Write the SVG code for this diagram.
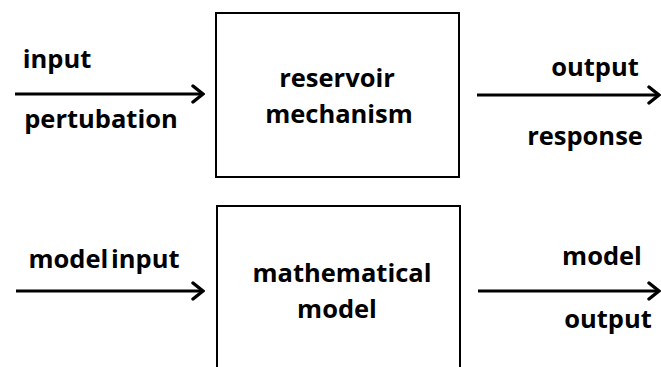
<svg xmlns="http://www.w3.org/2000/svg" width="661" height="367" viewBox="0 0 661 367">
  <defs>
    <marker id="head" markerUnits="userSpaceOnUse" markerWidth="16" markerHeight="22" viewBox="-14 -11 16 22" refX="0" refY="0" orient="auto">
      <path d="M-10,-8 L0,0 L-10,8" fill="none" stroke="#000" stroke-width="3.4" stroke-linecap="round" stroke-linejoin="miter"/>
    </marker>
    <style>
      .box { fill: #fff; stroke: #000; stroke-width: 2; }
      .lbl { font-family: "Open Sans", "Liberation Sans", sans-serif; font-weight: bold; font-size: 25.5px; fill: #000; }
      .arrow { stroke: #000; stroke-width: 3; fill: none; marker-end: url(#head); }
    </style>
  </defs>
  <rect width="661" height="367" fill="#fff"/>

  <g id="reservoir">
    <rect class="box" x="216" y="13" width="243" height="164"/>
    <text class="lbl" x="337" y="87" text-anchor="middle">reservoir</text>
    <text class="lbl" x="339" y="123" text-anchor="middle">mechanism</text>
  </g>

  <g id="model">
    <rect class="box" x="217" y="206" width="243" height="175"/>
    <text class="lbl" x="342" y="282" text-anchor="middle">mathematical</text>
    <text class="lbl" x="337" y="318" text-anchor="middle">model</text>
  </g>

  <g id="connectors">
    <line class="arrow" x1="15" y1="94" x2="203" y2="94"/>
    <line class="arrow" x1="477" y1="95" x2="659" y2="95"/>
    <line class="arrow" x1="16" y1="291" x2="203" y2="291"/>
    <line class="arrow" x1="478" y1="291" x2="659" y2="291"/>
  </g>

  <g id="labels">
    <text class="lbl" x="57" y="68" text-anchor="middle">input</text>
    <text class="lbl" x="101" y="128" text-anchor="middle">pertubation</text>
    <text class="lbl" x="595" y="76" text-anchor="middle">output</text>
    <text class="lbl" x="585" y="145" text-anchor="middle">response</text>
    <text class="lbl" x="104" y="268" text-anchor="middle" word-spacing="-4">model input</text>
    <text class="lbl" x="602" y="265" text-anchor="middle">model</text>
    <text class="lbl" x="608" y="328" text-anchor="middle">output</text>
  </g>
</svg>
